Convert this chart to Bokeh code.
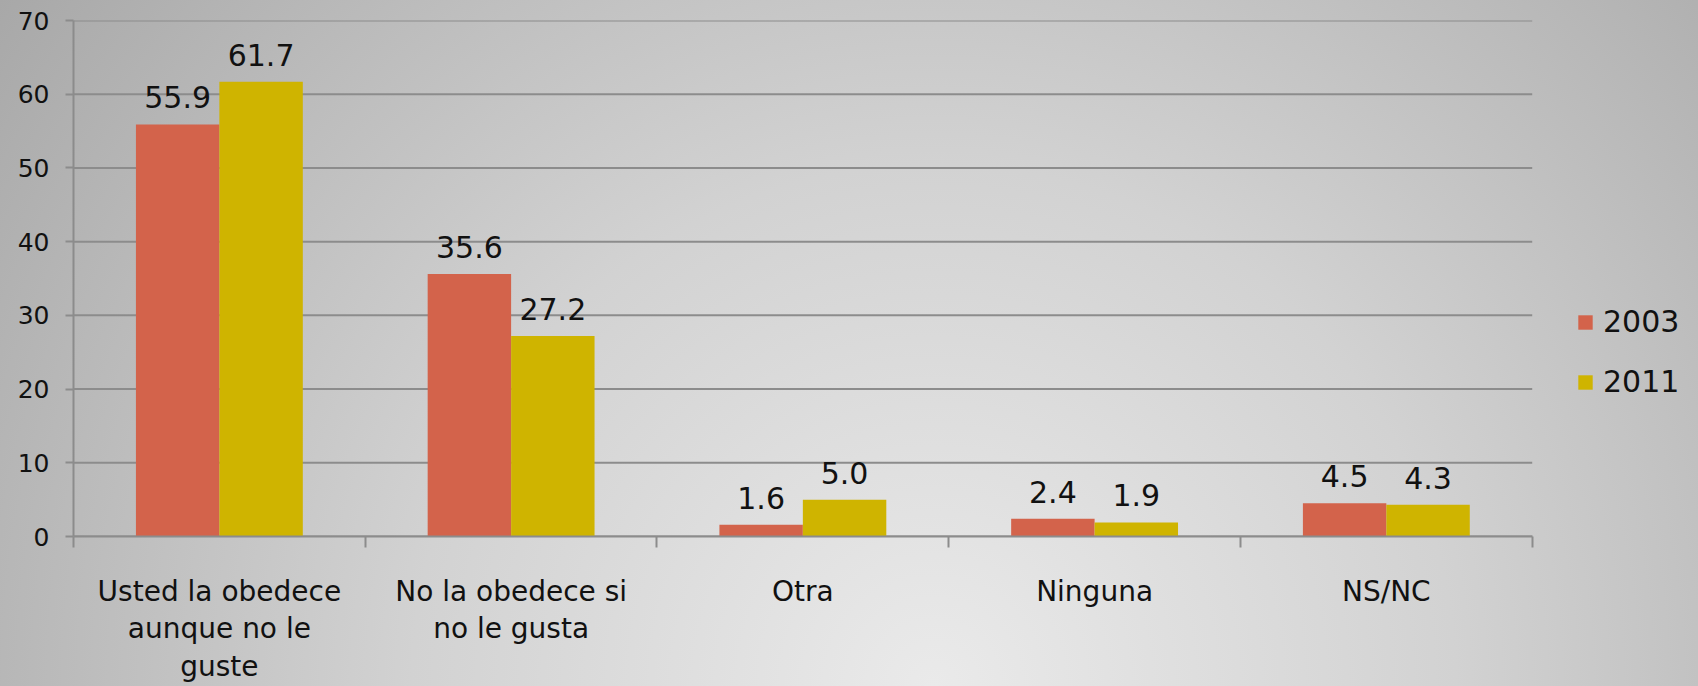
from bokeh.plotting import figure
from bokeh.models import FixedTicker, Legend, LegendItem, ColumnDataSource
from bokeh.core.properties import value
from bokeh.embed import file_html
from bokeh.resources import INLINE

# ---- data ----
categories = ["Usted la obedece aunque no le guste", "No la obedece si no le gusta",
              "Otra", "Ninguna", "NS/NC"]
category_labels = ["Usted la obedece\naunque no le\nguste", "No la obedece si\nno le gusta",
                   "Otra", "Ninguna", "NS/NC"]
series_names = ["2003", "2011"]
values_2003 = [55.9, 35.6, 1.6, 2.4, 4.5]
values_2011 = [61.7, 27.2, 5.0, 1.9, 4.3]
y_ticks = [0, 10, 20, 30, 40, 50, 60, 70]

colors = ["#D3634B", "#CFB400"]
FONT = "DejaVu Sans"
GRID = "#8c8c8c"

n = len(categories)
centers = [i + 1 for i in range(n)]
bar_w = 0.286
x_lo, x_hi = 0.5, n + 0.5
legend_room = 0.57   # extra x-room (in category units) on the right for the legend

p = figure(width=1698, height=686, x_range=(x_lo, x_hi + legend_room), y_range=(0, 70),
           output_backend="svg", toolbar_location=None,
           min_border_left=73, min_border_right=0, min_border_top=20, min_border_bottom=149)
p.styles = {"background": "radial-gradient(circle farthest-corner at 55% 100%, #eaeaea 0%, #d2d2d2 45%, #a8a8a8 100%)"}
p.border_fill_alpha = 0
p.background_fill_alpha = 0
p.outline_line_color = None

# horizontal gridlines limited to the category area
p.xgrid.grid_line_color = None
p.ygrid.grid_line_color = None
p.segment(x0=[x_lo] * len(y_ticks), x1=[x_hi] * len(y_ticks), y0=y_ticks, y1=y_ticks,
          line_color=GRID, line_width=2)

src_a = ColumnDataSource(dict(x=[c - bar_w / 2 for c in centers], top=values_2003,
                              lab=[f"{v:.1f}" for v in values_2003]))
src_b = ColumnDataSource(dict(x=[c + bar_w / 2 for c in centers], top=values_2011,
                              lab=[f"{v:.1f}" for v in values_2011]))

r1 = p.vbar(x="x", top="top", width=bar_w, source=src_a, fill_color=colors[0], line_color=None)
r2 = p.vbar(x="x", top="top", width=bar_w, source=src_b, fill_color=colors[1], line_color=None)

for src in (src_a, src_b):
    p.text(x="x", y="top", text="lab", source=src, text_align="center", text_baseline="bottom",
           y_offset=-16, text_font=value(FONT), text_font_size="30px", text_color="#111111")

# y axis
ya = p.yaxis[0]
ya.ticker = FixedTicker(ticks=y_ticks)
ya.axis_line_color = GRID
ya.axis_line_width = 2
ya.major_tick_line_color = GRID
ya.major_tick_line_width = 2
ya.major_tick_out = 8
ya.major_tick_in = 0
ya.minor_tick_line_color = None
ya.major_label_text_font = FONT
ya.major_label_text_font_size = "25px"
ya.major_label_text_color = "#111111"
ya.major_label_standoff = 16

# x axis
xa = p.xaxis[0]
xa.bounds = (x_lo, x_hi)
xa.ticker = FixedTicker(ticks=centers, minor_ticks=[i + 0.5 for i in range(n + 1)])
xa.major_label_overrides = {c: lab for c, lab in zip(centers, category_labels)}
xa.axis_line_color = GRID
xa.axis_line_width = 2
xa.major_tick_out = 0
xa.major_tick_in = 0
xa.major_tick_line_color = None
xa.minor_tick_out = 11
xa.minor_tick_in = 0
xa.minor_tick_line_color = GRID
xa.minor_tick_line_width = 2
xa.major_label_text_font = FONT
xa.major_label_text_font_size = "28px"
xa.major_label_text_color = "#111111"
xa.major_label_standoff = 27
xa.major_label_text_line_height = 1.15

legend = Legend(items=[LegendItem(label=series_names[0], renderers=[r1]),
                       LegendItem(label=series_names[1], renderers=[r2])],
                location=(1503, 137), orientation="vertical",
                glyph_width=18, glyph_height=18, label_standoff=9, label_height=30,
                spacing=25, padding=0, margin=0,
                border_line_color=None, background_fill_alpha=0,
                label_text_font=FONT, label_text_font_size="30px", label_text_color="#111111")
p.add_layout(legend, "center")

open("out.html", "w").write(file_html(p, INLINE))
